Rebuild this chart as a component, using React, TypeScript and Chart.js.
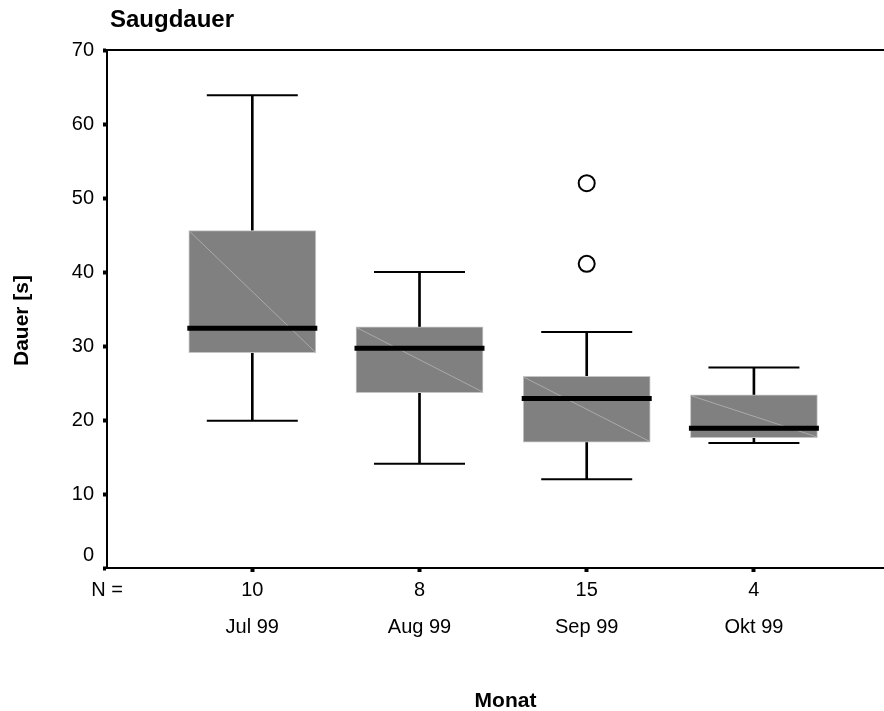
import React, { useEffect, useRef } from 'react';
import { Chart, registerables } from 'chart.js';

Chart.register(...registerables);

// ---- data ----
const months = ['Jul 99', 'Aug 99', 'Sep 99', 'Okt 99'];
const nCounts = ['10', '8', '15', '4'];
const positions = [1, 2, 3, 4];
const whiskerLow = [19.9, 14.1, 12.0, 16.9];
const q1 = [29.1, 23.7, 17.0, 17.6];
const median = [32.4, 29.7, 22.9, 18.9];
const q3 = [45.6, 32.6, 25.9, 23.4];
const whiskerHigh = [63.9, 40.0, 31.9, 27.1];
const outlierPositions = [3, 3];
const outlierValues = [52.0, 41.1];
const yTicks = [0, 10, 20, 30, 40, 50, 60, 70];
const nLabel = 'N =';
const chartTitle = 'Saugdauer';
const xTitle = 'Monat';
const yTitle = 'Dauer [s]';

// ---- layout constants ----
const W = 884;
const H = 711;
const XMIN = 0.131;
const XMAX = 4.778;
const FONT = "'Liberation Sans', Arial, Helvetica, sans-serif";

const decorPlugin = {
  id: 'decor',
  afterDatasetDraw(chart: any, args: any) {
    if (args.index !== 0) return;
    const ctx = chart.ctx;
    const meta = chart.getDatasetMeta(0);
    ctx.save();
    ctx.strokeStyle = '#b4b4b4';
    ctx.lineWidth = 0.8;
    meta.data.forEach((el: any) => {
      const { x, y, base, width } = el.getProps(['x', 'y', 'base', 'width'], true);
      const top = Math.min(y, base);
      const bottom = Math.max(y, base);
      ctx.beginPath();
      ctx.moveTo(x - width / 2 + 1, top + 1);
      ctx.lineTo(x + width / 2 - 1, bottom - 1);
      ctx.stroke();
    });
    ctx.restore();
  },
  afterDraw(chart: any) {
    const { ctx, chartArea } = chart;
    ctx.save();
    ctx.strokeStyle = '#000';
    ctx.lineWidth = 2;
    ctx.beginPath();
    ctx.moveTo(chartArea.left - 1, chartArea.top);
    ctx.lineTo(chartArea.right, chartArea.top);
    ctx.stroke();

    ctx.fillStyle = '#000';
    ctx.font = `bold 24px ${FONT}`;
    ctx.textAlign = 'left';
    ctx.textBaseline = 'alphabetic';
    ctx.fillText(chartTitle, 110, 27);

    ctx.font = `bold 21px ${FONT}`;
    ctx.textAlign = 'center';
    ctx.fillText(xTitle, 505.5, 707);

    ctx.translate(28, 320.5);
    ctx.rotate(-Math.PI / 2);
    ctx.fillText(yTitle, 0, 0);
    ctx.restore();
  },
};

export default function App() {
  const canvasRef = useRef<HTMLCanvasElement | null>(null);

  useEffect(() => {
    const canvas = canvasRef.current;
    if (!canvas) return;

    const boxData = positions.map((p, i) => ({ x: p, y: [q1[i], q3[i]] }));
    const stemData = [
      ...positions.map((p, i) => ({ x: p, y: [whiskerLow[i], q1[i]] })),
      ...positions.map((p, i) => ({ x: p, y: [q3[i], whiskerHigh[i]] })),
    ];
    const capData = [
      ...positions.map((p, i) => ({ x: p, y: whiskerLow[i] })),
      ...positions.map((p, i) => ({ x: p, y: whiskerHigh[i] })),
    ];
    const medianData = positions.map((p, i) => ({ x: p, y: median[i] }));
    const outlierData = outlierPositions.map((p, i) => ({ x: p, y: outlierValues[i] }));

    const chart = new Chart(canvas, {
      type: 'bar',
      data: {
        datasets: [
          {
            type: 'bar',
            label: 'Box',
            data: boxData as any,
            backgroundColor: '#808080',
            borderColor: '#c4c4c4',
            borderWidth: 1,
            borderSkipped: false,
            barThickness: 127,
            grouped: false,
            order: 4,
          } as any,
          {
            type: 'bar',
            label: 'Whisker',
            data: stemData as any,
            backgroundColor: '#000',
            borderWidth: 0,
            barThickness: 2,
            grouped: false,
            order: 5,
          } as any,
          {
            type: 'scatter',
            label: 'Caps',
            data: capData,
            pointStyle: 'line',
            pointRadius: 45.5,
            pointHoverRadius: 45.5,
            pointBorderWidth: 2,
            pointBorderColor: '#000',
            order: 3,
          } as any,
          {
            type: 'scatter',
            label: 'Median',
            data: medianData,
            pointStyle: 'line',
            pointRadius: 65,
            pointHoverRadius: 65,
            pointBorderWidth: 5,
            pointBorderColor: '#000',
            order: 2,
          } as any,
          {
            type: 'scatter',
            label: 'Ausreißer',
            data: outlierData,
            pointStyle: 'circle',
            pointRadius: 8,
            pointHoverRadius: 8,
            pointBorderWidth: 2,
            pointBorderColor: '#000',
            pointBackgroundColor: '#fff',
            order: 1,
          } as any,
        ],
      },
      options: {
        animation: false,
        responsive: false,
        devicePixelRatio: 1,
        layout: { autoPadding: false, padding: { top: 50, left: 0, right: 0, bottom: 0 } },
        plugins: {
          legend: { display: false },
          tooltip: { enabled: false },
          title: { display: false },
        },
        scales: {
          x: {
            type: 'linear',
            offset: false,
            min: XMIN,
            max: XMAX,
            afterBuildTicks: (s: any) => {
              s.ticks = [XMIN, ...positions].map((v) => ({ value: v }));
            },
            afterFit: (s: any) => {
              s.height = 143;
            },
            ticks: {
              autoSkip: false,
              maxRotation: 0,
              minRotation: 0,
              color: '#000',
              padding: 0,
              font: { family: FONT, size: 20, lineHeight: '37px' },
              callback: (_v: any, i: number) =>
                i === 0 ? [nLabel, ''] : [nCounts[i - 1], months[i - 1]],
            },
            grid: {
              display: true,
              offset: false,
              drawOnChartArea: false,
              drawTicks: true,
              tickLength: 4,
              tickWidth: 4,
              tickColor: (c: any) => (c.index === 0 ? 'rgba(0,0,0,0)' : '#000'),
            },
            border: { display: true, color: '#000', width: 2 },
          },
          y: {
            type: 'linear',
            min: 0,
            max: 70,
            afterBuildTicks: (s: any) => {
              s.ticks = yTicks.map((v) => ({ value: v }));
            },
            afterFit: (s: any) => {
              s.width = 107;
            },
            ticks: {
              color: '#000',
              padding: 9,
              font: { family: FONT, size: 20, lineHeight: '26px' },
              callback: (v: any) => (v === 0 ? ['0', ''] : String(v)),
            },
            grid: {
              display: true,
              drawOnChartArea: false,
              drawTicks: true,
              tickLength: 4,
              tickWidth: 4,
              tickColor: '#000',
            },
            border: { display: true, color: '#000', width: 2 },
          },
        },
      } as any,
      plugins: [decorPlugin],
    });

    return () => chart.destroy();
  }, []);

  return (
    <div
      style={{
        position: 'fixed',
        left: 0,
        top: 0,
        width: W,
        height: H,
        background: '#fff',
      }}
    >
      <canvas ref={canvasRef} width={W} height={H} style={{ width: W, height: H, display: 'block' }} />
    </div>
  );
}
